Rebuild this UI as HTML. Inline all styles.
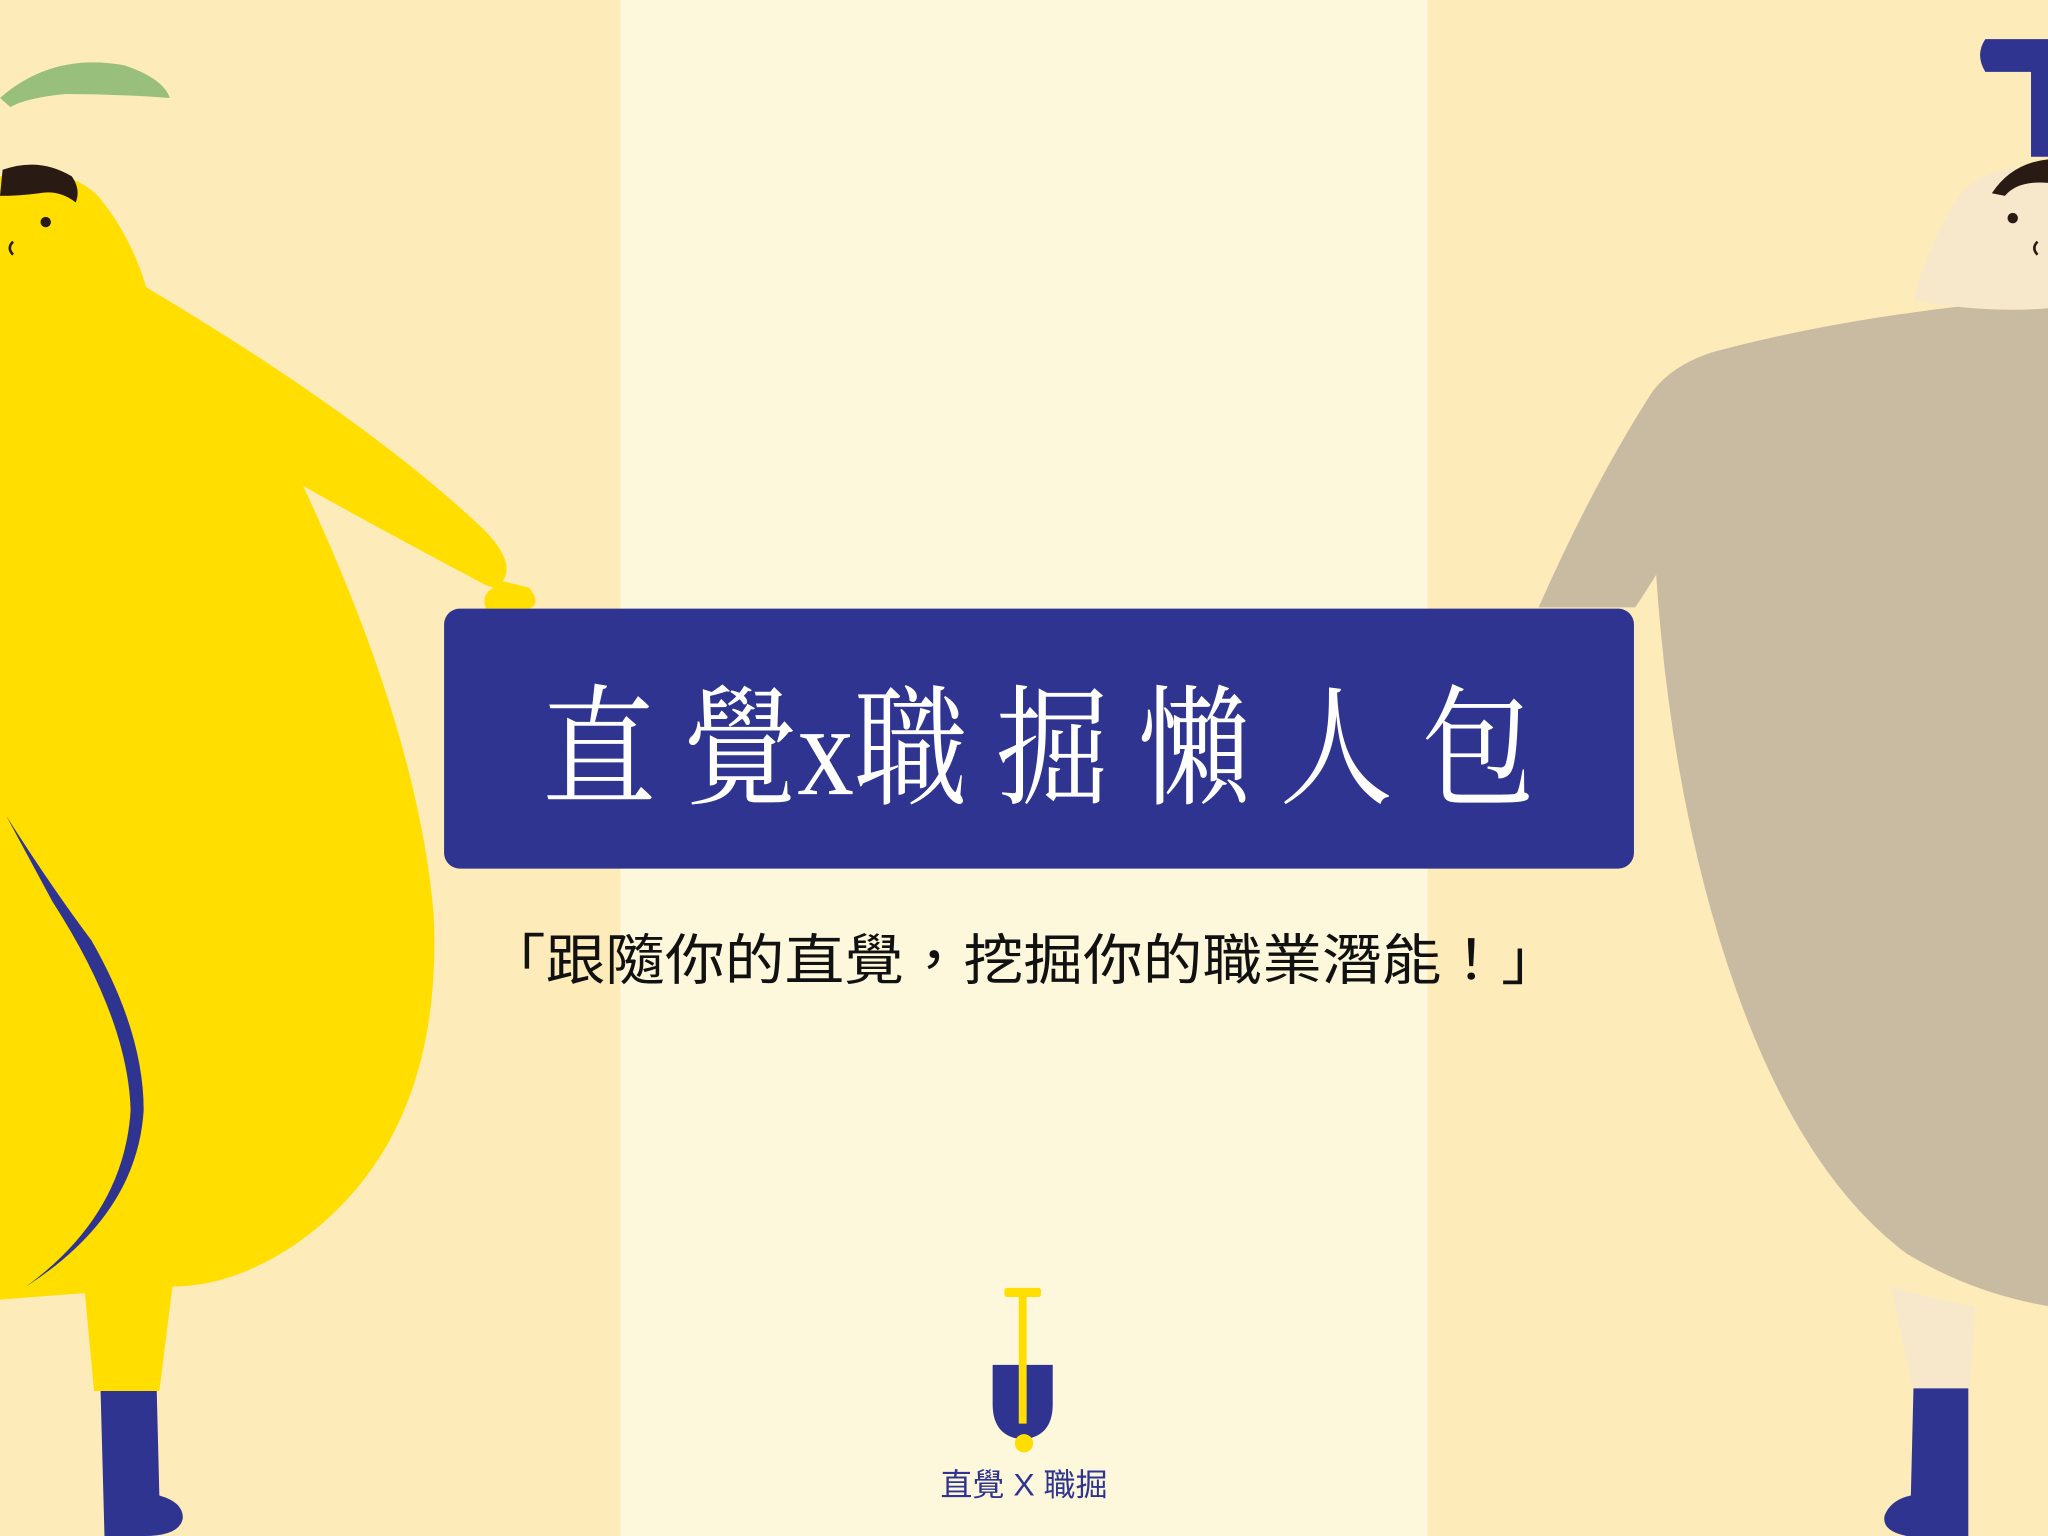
<!DOCTYPE html>
<html><head><meta charset="utf-8"><style>
html,body{margin:0;padding:0;width:2048px;height:1536px;overflow:hidden;background:#FDF7DC}
svg{display:block}
</style></head><body>
<svg width="2048" height="1536" viewBox="0 0 1568 1176" xmlns="http://www.w3.org/2000/svg">
<rect x="0" y="0" width="475" height="1176" fill="#FDEBB9"/>
<rect x="475" y="0" width="618" height="1176" fill="#FDF7DC"/>
<rect x="1093" y="0" width="475" height="1176" fill="#FDEBB9"/>

<g>
<path d="M0,75 Q40,40 95,50 Q125,60 130,75 Q90,72 50,72 Q20,75 8,82 Z" fill="#98C07C"/>
<path d="M0,135 Q50,125 75,150 Q100,180 112,220 Q280,320 370,405 Q395,430 385,445 L405,450 Q415,462 405,466 L372,466 Q368,455 378,450 L372,448 Q300,410 232,372 Q320,560 332,700 Q340,870 230,950 Q180,985 132,985 L122,1065 L72,1065 L65,990 L0,995 Z" fill="#FFDE00"/>
<path d="M2,130 Q30,120 55,135 Q62,145 58,155 Q45,145 30,148 Q15,150 0,150 Z" fill="#2A1A14"/>
<circle cx="35" cy="170" r="4" fill="#2A1A14"/>
<path d="M10,185 Q5,190 10,195" stroke="#2A1A14" stroke-width="2" fill="none"/>
<path d="M5,625 Q40,680 70,720 Q110,790 110,850 Q105,930 20,985 Q95,930 100,850 Q98,780 40,690 Z" fill="#2E3490"/>
<path d="M77,1065 L120,1065 L122,1145 Q140,1150 140,1162 Q138,1176 110,1176 L80,1176 Z" fill="#2E3490"/>
</g>

<g>
<path d="M1568,228 Q1420,240 1310,270 Q1280,280 1265,300 Q1220,370 1178,465 L1252,465 Q1262,450 1268,440 Q1280,620 1330,760 Q1380,900 1460,960 Q1510,990 1568,1000 Z" fill="#C9BBA2"/>
<path d="M1568,128 Q1520,125 1500,150 Q1475,190 1465,230 Q1520,240 1568,236 Z" fill="#F7E8CC"/>
<path d="M1525,148 Q1540,125 1568,122 L1568,140 Q1545,138 1535,150 Z" fill="#2A1A14"/>
<circle cx="1541" cy="167" r="4" fill="#2A1A14"/>
<path d="M1560,185 Q1555,190 1560,195" stroke="#2A1A14" stroke-width="2" fill="none"/>
<path d="M1448,985 Q1480,995 1512,1000 L1508,1065 L1465,1065 Z" fill="#F7E8CC"/>
<path d="M1465,1063 L1507,1063 L1507,1176 L1460,1176 Q1440,1172 1443,1160 Q1448,1148 1463,1145 Z" fill="#2E3490"/>
<path d="M1520,30 L1568,30 L1568,120 L1555,120 L1555,55 L1520,55 Q1512,42 1520,30 Z" fill="#2E3490"/>
</g>

<rect x="340" y="466" width="911" height="199" rx="12" fill="#2E3490"/>
<text x="415" y="608" textLength="760" lengthAdjust="spacingAndGlyphs" fill="#FFFFFF" font-family="'Liberation Serif','Noto Serif CJK SC',serif" font-size="100">直 覺x職 掘 懶 人 包</text>
<text x="372" y="750" textLength="823" lengthAdjust="spacingAndGlyphs" fill="#111111" font-family="'Liberation Sans','Noto Sans CJK TC',sans-serif" font-size="42">「跟隨你的直覺，挖掘你的職業潛能！」</text>

<g>
<rect x="769" y="986" width="28" height="7" rx="2" fill="#FFDE00"/>
<rect x="780" y="990" width="6" height="110" fill="#FFDE00"/>
<path d="M760,1045 L780,1045 L780,1090 L786,1090 L786,1045 L806,1045 L806,1075 Q806,1100 783,1102 Q760,1100 760,1075 Z" fill="#2E3490"/>
<circle cx="784" cy="1105" r="7" fill="#FFDE00"/>
</g>
<text x="720" y="1145" textLength="128" lengthAdjust="spacingAndGlyphs" fill="#2E3490" font-family="'Liberation Sans','Noto Sans CJK TC',sans-serif" font-size="24">直覺 X 職掘</text>
</svg>
</body></html>
